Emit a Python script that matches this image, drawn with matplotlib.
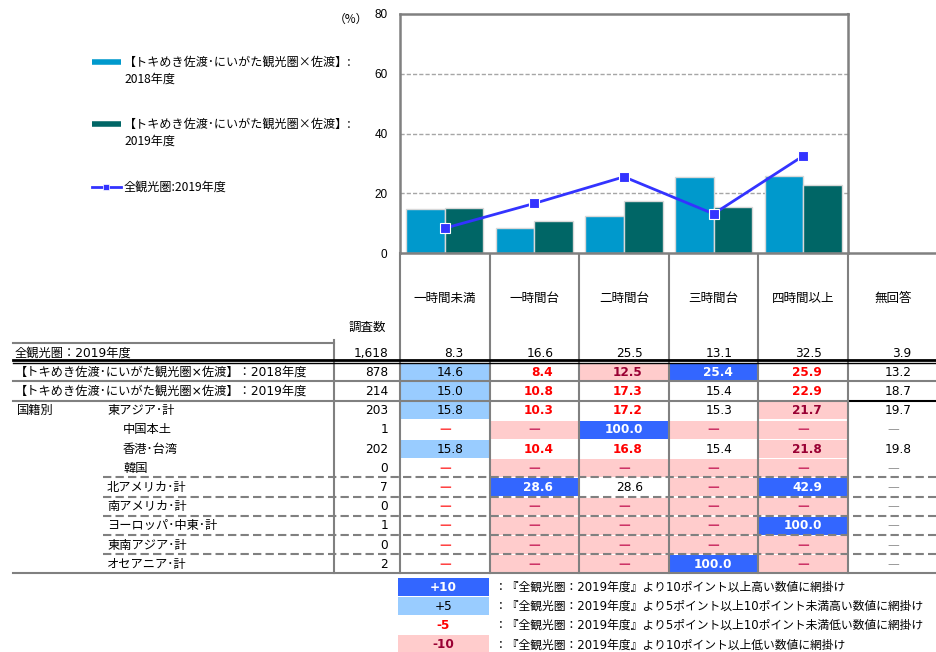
import matplotlib
matplotlib.use("Agg")
import matplotlib.pyplot as plt
from matplotlib.patches import Rectangle
import numpy as np

plt.rcParams['font.family'] = ['Noto Sans CJK JP', 'DejaVu Sans']

W, H = 936, 652

# ---- data ----
categories = ['一時間未満', '一時間台', '二時間台', '三時間台', '四時間以上', '無回答']
vals_2018 = [14.6, 8.4, 12.5, 25.4, 25.9]
vals_2019 = [15.0, 10.8, 17.3, 15.4, 22.9]
vals_all = [8.3, 16.6, 25.5, 13.1, 32.5]

legend_2018 = '【トキめき佐渡･にいがた観光圏×佐渡】:\n2018年度'
legend_2019 = '【トキめき佐渡･にいがた観光圏×佐渡】:\n2019年度'
legend_all = '全観光圏:2019年度'

row_labels = ['全観光圏：2019年度',
              '【トキめき佐渡･にいがた観光圏×佐渡】：2018年度',
              '【トキめき佐渡･にいがた観光圏×佐渡】：2019年度',
              '東アジア･計', '中国本土', '香港･台湾', '韓国',
              '北アメリカ･計', '南アメリカ･計', 'ヨーロッパ･中東･計',
              '東南アジア･計', 'オセアニア･計']
row_indent = [0, 0, 0, 1, 2, 2, 2, 1, 1, 1, 1, 1]
counts = ['1,618', '878', '214', '203', '1', '202', '0', '7', '0', '1', '0', '2']
table_vals = [
    ['8.3', '16.6', '25.5', '13.1', '32.5', '3.9'],
    ['14.6', '8.4', '12.5', '25.4', '25.9', '13.2'],
    ['15.0', '10.8', '17.3', '15.4', '22.9', '18.7'],
    ['15.8', '10.3', '17.2', '15.3', '21.7', '19.7'],
    [None, None, '100.0', None, None, None],
    ['15.8', '10.4', '16.8', '15.4', '21.8', '19.8'],
    [None, None, None, None, None, None],
    [None, '28.6', '28.6', None, '42.9', None],
    [None, None, None, None, None, None],
    [None, None, None, None, '100.0', None],
    [None, None, None, None, None, None],
    [None, None, None, '100.0', None, None],
]
# '' plain, 'b' +10, 'lb' +5, 'r' -5, 'p' -10
table_styles = [
    ['', '', '', '', '', ''],
    ['lb', 'r', 'p', 'b', 'r', ''],
    ['lb', 'r', 'r', '', 'r', ''],
    ['lb', 'r', 'r', '', 'p', ''],
    ['r', 'p', 'b', 'p', 'p', ''],
    ['lb', 'r', 'r', '', 'p', ''],
    ['r', 'p', 'p', 'p', 'p', ''],
    ['r', 'b', '', 'p', 'b', ''],
    ['r', 'p', 'p', 'p', 'p', ''],
    ['r', 'p', 'p', 'p', 'b', ''],
    ['r', 'p', 'p', 'p', 'p', ''],
    ['r', 'p', 'p', 'b', 'p', ''],
]
key_labels = ['+10', '+5', '-5', '-10']
key_styles = ['b', 'lb', 'r', 'p']
key_texts = ['：『全観光圏：2019年度』より10ポイント以上高い数値に網掛け',
             '：『全観光圏：2019年度』より5ポイント以上10ポイント未満高い数値に網掛け',
             '：『全観光圏：2019年度』より5ポイント以上10ポイント未満低い数値に網掛け',
             '：『全観光圏：2019年度』より10ポイント以上低い数値に網掛け']

# ---- styles ----
c2018 = '#0099CC'
c2019 = '#006666'
cline = '#3333FF'
grey = '#808080'
bg = {'': None, 'b': '#3366FF', 'lb': '#99CCFF', 'r': None, 'p': '#FFCCCC'}
fg = {'': 'black', 'b': 'white', 'lb': 'black', 'r': '#FF0000', 'p': '#990033'}
fw = {'': 'normal', 'b': 'bold', 'lb': 'normal', 'r': 'bold', 'p': 'bold'}
dash_col = {'': '#999999', 'b': 'white', 'lb': 'black', 'r': '#FF4444', 'p': '#CC3366'}

lab_font = ['DejaVu Sans', 'Noto Sans CJK JP']

fig = plt.figure(figsize=(W / 100, H / 100), dpi=100)

# overlay in pixel coordinates for table and legend
ov = fig.add_axes([0, 0, 1, 1], zorder=0)
ov.set_xlim(0, W)
ov.set_ylim(H, 0)
ov.axis('off')

# chart geometry
ax_l, ax_r, ax_t, ax_b = 400, 848, 14, 253
ax = fig.add_axes([ax_l / W, 1 - ax_b / H, (ax_r - ax_l) / W, (ax_b - ax_t) / H], zorder=2)
n = len(vals_2018)
x = np.arange(n)
bw = 0.43
ax.bar(x - bw / 2, vals_2018, bw, color=c2018, edgecolor='#D8D8D8', linewidth=1, zorder=2)
ax.bar(x + bw / 2, vals_2019, bw, color=c2019, edgecolor='#D8D8D8', linewidth=1, zorder=2)
ax.plot(x, vals_all, color=cline, lw=2, marker='s', ms=7.5, mec='white', mew=0.8, zorder=3)
ax.set_xlim(-0.5, n - 0.5)
ax.set_ylim(0, 80)
ax.set_yticks([0, 20, 40, 60, 80])
ax.set_xticks([])
for y in [20, 40, 60]:
    ax.axhline(y, color='#A6A6A6', lw=1, ls=(0, (3, 1.5)), zorder=1)
for s in ax.spines.values():
    s.set_color(grey)
    s.set_linewidth(1.8)
ax.tick_params(axis='y', length=0, pad=9, labelsize=8.5)
for t in ax.get_yticklabels():
    t.set_family('Liberation Sans')
ov.text(351, 19, '（%）', fontsize=8.5, ha='center', va='center')

# legend (left of chart)
ov.plot([92, 121], [62, 62], color=c2018, lw=4, solid_capstyle='butt')
ov.plot([92, 121], [124, 124], color=c2019, lw=4, solid_capstyle='butt')
ov.plot([92, 121], [187, 187], color=cline, lw=2)
ov.plot([106], [187], marker='s', color=cline, ms=4, mec='white', mew=0.5)
for yy, txt in [(70.5, legend_2018), (132.5, legend_2019), (187, legend_all)]:
    ov.text(124, yy, txt, fontsize=8.7, ha='left', va='center', linespacing=1.4)

# table geometry
col_edges = [ax_l + (ax_r - ax_l) / n * k for k in range(n + 2)]
label_edge, left_edge = 334, 13
row_h = 19.2
top = 343
row_top = [top + i * row_h for i in range(len(row_labels) + 1)]
bottom = row_top[-1]

# header
for i, c in enumerate(categories):
    ov.text((col_edges[i] + col_edges[i + 1]) / 2, 298, c, fontsize=9, ha='center', va='center')
ov.text(367, 327, '調査数', fontsize=9, ha='center', va='center')

# cells
for r in range(len(row_labels)):
    y0, y1 = row_top[r], row_top[r + 1]
    yc = (y0 + y1) / 2
    for c in range(len(categories)):
        st = table_styles[r][c]
        x0, x1 = col_edges[c], col_edges[c + 1]
        if bg[st]:
            ov.add_patch(Rectangle((x0 + 1, y0 + 1), x1 - x0 - 2, y1 - y0 - 1.5,
                                   facecolor=bg[st], edgecolor='none', zorder=1))
        v = table_vals[r][c]
        if v is None:
            ov.text((x0 + x1) / 2, yc + 0.5, '—', fontsize=8.5, ha='center', va='center',
                    color=dash_col[st], fontweight='bold' if st else 'normal',
                    family='DejaVu Sans', zorder=3)
        else:
            ov.text(x1 - 26, yc + 0.5, v, fontsize=8.7, ha='right', va='center',
                    color=fg[st], fontweight=fw[st], family='DejaVu Sans', zorder=3)
    ov.text(388, yc + 0.5, counts[r], fontsize=8.7, ha='right', va='center',
            family='DejaVu Sans', zorder=3)
    lx = [15, 107, 123][row_indent[r]]
    ov.text(lx, yc + 0.5, row_labels[r], fontsize=8.8, ha='left', va='center',
            family=lab_font, zorder=3)
ov.text(17, (row_top[3] + row_top[4]) / 2 + 0.5, '国籍別', fontsize=8.8, ha='left',
        va='center', family=lab_font, zorder=3)

# table lines
lk = dict(color=grey, lw=1.5, zorder=2)
ov.plot([left_edge, label_edge], [top, top], **lk)
ov.plot([ax_r, W], [ax_b, ax_b], color=grey, lw=1.8, zorder=2)
ov.plot([left_edge, W], [row_top[1] - 2, row_top[1] - 2], color='black', lw=2, zorder=4)
ov.plot([left_edge, W], [row_top[1] + 1.2, row_top[1] + 1.2], color='black', lw=1, zorder=4)
ov.plot([left_edge, W], [row_top[2], row_top[2]], **lk)
ov.plot([left_edge, col_edges[-2]], [row_top[3], row_top[3]], **lk)
ov.plot([col_edges[-2], W], [row_top[3], row_top[3]], color='black', lw=1.5, zorder=2)
for r in range(7, len(row_labels)):
    ov.plot([103, W], [row_top[r], row_top[r]], color=grey, lw=1.5, ls=(0, (4, 2)), zorder=2)
ov.plot([left_edge, W], [bottom, bottom], **lk)
ov.plot([label_edge, label_edge], [top - 3, bottom], **lk)
for k, xe in enumerate(col_edges[:-1]):
    ov.plot([xe, xe], [ax_b, bottom], **lk)
ov.plot([ax_r, ax_r], [ax_t, ax_b], **lk)

# shading key
for i, (kl, ks, kt) in enumerate(zip(key_labels, key_styles, key_texts)):
    yc = 587 + i * 19.1
    if bg[ks]:
        ov.add_patch(Rectangle((398, yc - 9), 91, 18, facecolor=bg[ks], edgecolor='none'))
    ov.text(443.5, yc + 0.5, kl, fontsize=8.7, ha='center', va='center', color=fg[ks],
            fontweight='bold' if ks != 'lb' else 'normal', family='DejaVu Sans')
    ov.text(495, yc + 0.5, kt, fontsize=8.5, ha='left', va='center', family=lab_font)

fig.savefig('out.png', dpi=100)
